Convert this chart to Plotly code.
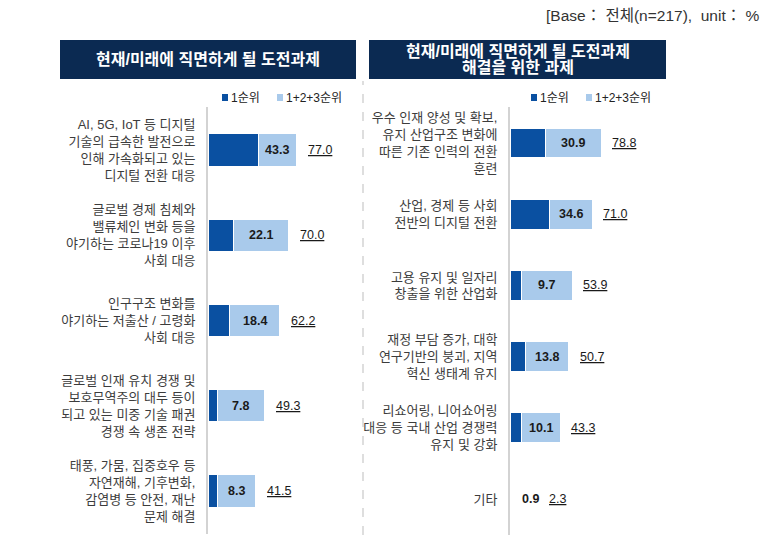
"""Two-panel ranked bar chart: 현재/미래 도전과제 and 해결 과제."""

import plotly.graph_objects as go

# ---------------------------------------------------------------------------
# Data
# ---------------------------------------------------------------------------
left_labels = [
    "AI, 5G, IoT 등 디지털<br>기술의 급속한 발전으로<br>인해 가속화되고 있는<br>디지털 전환 대응",
    "글로벌 경제 침체와<br>밸류체인 변화 등을<br>야기하는 코로나19 이후<br>사회 대응",
    "인구구조 변화를<br>야기하는 저출산 / 고령화<br>사회 대응",
    "글로벌 인재 유치 경쟁 및<br>보호무역주의 대두 등이<br>되고 있는 미중 기술 패권<br>경쟁 속 생존 전략",
    "태풍, 가뭄, 집중호우 등<br>자연재해, 기후변화,<br>감염병 등 안전, 재난<br>문제 해결",
]
left_first = [43.3, 22.1, 18.4, 7.8, 8.3]
left_total = [77.0, 70.0, 62.2, 49.3, 41.5]

right_labels = [
    "우수 인재 양성 및 확보,<br>유지 산업구조 변화에<br>따른 기존 인력의 전환<br>훈련",
    "산업, 경제 등 사회<br>전반의 디지털 전환",
    "고용 유지 및 일자리<br>창출을 위한 산업화",
    "재정 부담 증가, 대학<br>연구기반의 붕괴, 지역<br>혁신 생태계 유지",
    "리쇼어링, 니어쇼어링<br>대응 등 국내 산업 경쟁력<br>유지 및 강화",
    "기타",
]
right_first = [30.9, 34.6, 9.7, 13.8, 10.1, 0.9]
right_total = [78.8, 71.0, 53.9, 50.7, 43.3, 2.3]

left_title = ["현재/미래에 직면하게 될 도전과제"]
right_title = ["현재/미래에 직면하게 될 도전과제", "해결을 위한 과제"]
legend_names = ["1순위", "1+2+3순위"]
base_note = "[Base： 전체(n=217),  unit： %"

# ---------------------------------------------------------------------------
# Styling
# ---------------------------------------------------------------------------
W, H = 767, 536
DARK = "#0a50a1"
LIGHT = "#a9caeb"
NAVY = "#0b2a52"
TEXT = "#3c3c3c"
FONT = "Liberation Sans, Noto Sans CJK KR, sans-serif"
PX_PER_UNIT = 1.155


def px(x):
    return x / W


def py(y):
    return 1 - y / H


fig = go.Figure()

panels = [
    # labels, first, total, xaxis, yaxis, bar width
    (left_labels, left_first, left_total, "x", "y", 0.38),
    (right_labels, right_first, right_total, "x2", "y2", 0.42),
]

annotations = []
for labels, first, total, xa, ya, bw in panels:
    rest = [t - f for f, t in zip(first, total)]
    fig.add_trace(go.Bar(
        y=labels, x=first, orientation="h", xaxis=xa, yaxis=ya,
        marker=dict(color=DARK, line=dict(color="white", width=1)),
        width=bw, showlegend=False, hoverinfo="skip",
    ))
    fig.add_trace(go.Bar(
        y=labels, x=rest, orientation="h", xaxis=xa, yaxis=ya,
        marker=dict(color=LIGHT, line=dict(color="white", width=1)),
        width=bw, showlegend=False, hoverinfo="skip",
    ))
    for i, (f, t) in enumerate(zip(first, total)):
        narrow = (t - f) * PX_PER_UNIT < 30
        if narrow:
            annotations.append(dict(
                x=t, y=i, xref=xa, yref=ya, text=f"<b>{f:.1f}</b>",
                xanchor="left", yanchor="middle", xshift=7, showarrow=False,
                font=dict(size=12.5, color="#1a1a1a", family=FONT),
            ))
        else:
            annotations.append(dict(
                x=(f + t) / 2, y=i, xref=xa, yref=ya, text=f"<b>{f:.1f}</b>",
                xanchor="center", yanchor="middle", showarrow=False,
                font=dict(size=12.5, color="#1a1a1a", family=FONT),
            ))
        annotations.append(dict(
            x=t, y=i, xref=xa, yref=ya, text=f"<u>{t:.1f}</u>",
            xanchor="left", yanchor="middle", xshift=34 if narrow else 9,
            showarrow=False,
            font=dict(size=12.5, color="#1a1a1a", family=FONT),
        ))

axis_common = dict(showgrid=False, zeroline=False, showticklabels=False,
                   fixedrange=True)
yaxis_common = dict(
    type="category", autorange="reversed", showgrid=False, zeroline=False,
    showline=True, linecolor="#d3d3d3", linewidth=2,
    ticks="outside", ticklen=8, tickcolor="rgba(0,0,0,0)",
    tickfont=dict(size=13, color=TEXT, family=FONT),
)

fig.update_layout(
    width=W, height=H,
    margin=dict(l=0, r=0, t=0, b=0),
    paper_bgcolor="white", plot_bgcolor="white",
    barmode="stack", bargap=0.5,
    font=dict(family=FONT, color=TEXT),
    xaxis=dict(domain=[px(208), px(362)], range=[0, (362 - 208) / PX_PER_UNIT],
               anchor="y", **axis_common),
    yaxis=dict(domain=[py(533.6), py(107.4)], anchor="x", **yaxis_common),
    xaxis2=dict(domain=[px(510), px(666)], range=[0, (666 - 510) / PX_PER_UNIT],
                anchor="y2", **axis_common),
    yaxis2=dict(domain=[py(534.6), py(107.4)], anchor="x2", **yaxis_common),
)

shapes = []
# title boxes
for (bx0, bx1), lines in [((60, 356), left_title), ((369, 666), right_title)]:
    shapes.append(dict(type="rect", xref="paper", yref="paper",
                       x0=px(bx0), x1=px(bx1), y0=py(79), y1=py(40),
                       fillcolor=NAVY, line=dict(width=0), layer="below"))
    step = 15.5
    top = 59.5 - step * (len(lines) - 1) / 2
    for j, line in enumerate(lines):
        annotations.append(dict(
            x=px((bx0 + bx1) / 2), y=py(top + j * step), xref="paper",
            yref="paper", text=f"<b>{line}</b>", showarrow=False,
            xanchor="center", yanchor="middle",
            font=dict(size=16, color="white", family=FONT),
        ))

# dashed separator
shapes.append(dict(type="line", xref="paper", yref="paper",
                   x0=px(363), x1=px(363), y0=py(535), y1=py(81),
                   line=dict(color="#bdbdbd", width=1, dash="dash")))

# legends
for lx in (222, 531):
    for k, (name, col) in enumerate(zip(legend_names, [DARK, LIGHT])):
        sx = lx + k * 55
        shapes.append(dict(type="rect", xref="paper", yref="paper",
                           x0=px(sx), x1=px(sx + 6), y0=py(101), y1=py(94),
                           fillcolor=col, line=dict(width=0)))
        annotations.append(dict(
            x=px(sx + 7), y=py(97.5), xref="paper", yref="paper",
            text=name, xanchor="left", yanchor="middle", showarrow=False,
            font=dict(size=12, color="#222", family=FONT),
        ))

annotations.append(dict(
    x=px(762), y=py(16), xref="paper", yref="paper", text=base_note,
    xanchor="right", yanchor="middle", showarrow=False,
    font=dict(size=15.5, color="#333", family=FONT),
))

fig.update_layout(shapes=shapes, annotations=annotations)

fig.write_html("out.html", config={"displayModeBar": False},
               post_script="document.body.style.margin='0';")
